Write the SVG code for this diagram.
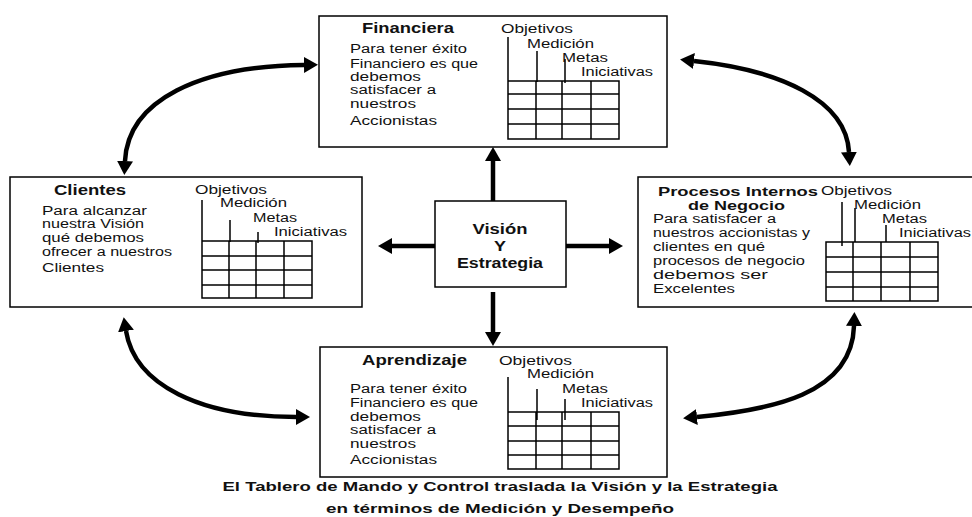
<svg xmlns="http://www.w3.org/2000/svg" width="972" height="517" viewBox="0 0 972 517">
<style>
.box{fill:#fff;stroke:#000;stroke-width:1.5}
.grid{fill:none;stroke:#000;stroke-width:1.5}
.t{font-family:"Liberation Sans",Arial,sans-serif;font-size:14px;font-weight:bold;fill:#111}
.t2{font-family:"Liberation Sans",Arial,sans-serif;font-size:13px;font-weight:bold;fill:#111}
.b{font-family:"Liberation Sans",Arial,sans-serif;font-size:12px;fill:#111}
.h{font-family:"Liberation Sans",Arial,sans-serif;font-size:12px;fill:#111}
.f{font-family:"Liberation Sans",Arial,sans-serif;font-size:13px;font-weight:bold;fill:#111}
.ar{fill:none;stroke:#000;stroke-width:4.5;marker-end:url(#ah)}
.cv{fill:none;stroke:#000;stroke-width:4.5;marker-start:url(#ah);marker-end:url(#ah)}
</style>
<defs>
<marker id="ah" viewBox="0 0 10 10" refX="0" refY="5" markerWidth="14" markerHeight="16" markerUnits="userSpaceOnUse" orient="auto-start-reverse" preserveAspectRatio="none">
<path d="M0,0 L10,5 L0,10 z" fill="#000"/>
</marker>
</defs>
<rect width="972" height="517" fill="#fff"/>

<g id="financiera">
<rect class="box" x="319" y="16" width="348" height="131"/>
<text class="t" x="362" y="33" textLength="92" lengthAdjust="spacingAndGlyphs">Financiera</text>
<text class="b" x="350" y="53" textLength="117" lengthAdjust="spacingAndGlyphs">Para tener éxito</text>
<text class="b" x="350" y="68" textLength="128" lengthAdjust="spacingAndGlyphs">Financiero es que</text>
<text class="b" x="350" y="81" textLength="71" lengthAdjust="spacingAndGlyphs">debemos</text>
<text class="b" x="350" y="94" textLength="86" lengthAdjust="spacingAndGlyphs">satisfacer a</text>
<text class="b" x="350" y="108" textLength="66" lengthAdjust="spacingAndGlyphs">nuestros</text>
<text class="b" x="350" y="125" textLength="87" lengthAdjust="spacingAndGlyphs">Accionistas</text>
<text class="h" x="501" y="33" textLength="72" lengthAdjust="spacingAndGlyphs">Objetivos</text>
<text class="h" x="527" y="48" textLength="67" lengthAdjust="spacingAndGlyphs">Medición</text>
<text class="h" x="562" y="62" textLength="46" lengthAdjust="spacingAndGlyphs">Metas</text>
<text class="h" x="581" y="76" textLength="72" lengthAdjust="spacingAndGlyphs">Iniciativas</text>
<path class="grid" d="M508,37V81M537,51V82M565,59V83M508,81H619V139H508ZM536,81V139M562,81V139M591,81V139M508,94H619M508,109H619M508,124H619"/>
</g>

<g id="clientes">
<rect class="box" x="10" y="177" width="352" height="130"/>
<text class="t" x="54" y="195" textLength="72" lengthAdjust="spacingAndGlyphs">Clientes</text>
<text class="b" x="42" y="215" textLength="105" lengthAdjust="spacingAndGlyphs">Para alcanzar</text>
<text class="b" x="42" y="228" textLength="102" lengthAdjust="spacingAndGlyphs">nuestra Visión</text>
<text class="b" x="42" y="242" textLength="102" lengthAdjust="spacingAndGlyphs">qué debemos</text>
<text class="b" x="42" y="256" textLength="130" lengthAdjust="spacingAndGlyphs">ofrecer a nuestros</text>
<text class="b" x="42" y="272" textLength="62" lengthAdjust="spacingAndGlyphs">Clientes</text>
<text class="h" x="195" y="194" textLength="72" lengthAdjust="spacingAndGlyphs">Objetivos</text>
<text class="h" x="220" y="207" textLength="67" lengthAdjust="spacingAndGlyphs">Medición</text>
<text class="h" x="253" y="222" textLength="44" lengthAdjust="spacingAndGlyphs">Metas</text>
<text class="h" x="274" y="236" textLength="73" lengthAdjust="spacingAndGlyphs">Iniciativas</text>
<path class="grid" d="M202,200V241M230,220V242M258,232V243M202,241H312V298H202ZM229,241V298M256,241V298M284,241V298M202,256H312M202,270H312M202,285H312"/>
</g>

<g id="procesos">
<rect class="box" x="638" y="177" width="340" height="130"/>
<text class="t2" x="658" y="196" textLength="160" lengthAdjust="spacingAndGlyphs">Procesos Internos</text>
<text class="t2" x="688" y="210" textLength="97" lengthAdjust="spacingAndGlyphs">de Negocio</text>
<text class="b" x="653" y="223" textLength="123" lengthAdjust="spacingAndGlyphs">Para satisfacer a</text>
<text class="b" x="653" y="237" textLength="157" lengthAdjust="spacingAndGlyphs">nuestros accionistas y</text>
<text class="b" x="653" y="251" textLength="112" lengthAdjust="spacingAndGlyphs">clientes en qué</text>
<text class="b" x="653" y="265" textLength="152" lengthAdjust="spacingAndGlyphs">procesos de negocio</text>
<text class="b" x="653" y="279" textLength="115" lengthAdjust="spacingAndGlyphs">debemos ser</text>
<text class="b" x="653" y="293" textLength="82" lengthAdjust="spacingAndGlyphs">Excelentes</text>
<text class="h" x="821" y="195" textLength="71" lengthAdjust="spacingAndGlyphs">Objetivos</text>
<text class="h" x="854" y="209" textLength="67" lengthAdjust="spacingAndGlyphs">Medición</text>
<text class="h" x="882" y="223" textLength="45" lengthAdjust="spacingAndGlyphs">Metas</text>
<text class="h" x="899" y="237" textLength="72" lengthAdjust="spacingAndGlyphs">Iniciativas</text>
<path class="grid" d="M842,202V246M855,208V242M886,225V242M826,242H938V301H826ZM853,242V301M881,242V301M910,242V301M826,257H938M826,272H938M826,287H938"/>
</g>

<g id="aprendizaje">
<rect class="box" x="320" y="347" width="347" height="130"/>
<text class="t" x="362" y="365" textLength="105" lengthAdjust="spacingAndGlyphs">Aprendizaje</text>
<text class="b" x="350" y="393" textLength="117" lengthAdjust="spacingAndGlyphs">Para tener éxito</text>
<text class="b" x="350" y="407" textLength="128" lengthAdjust="spacingAndGlyphs">Financiero es que</text>
<text class="b" x="350" y="421" textLength="71" lengthAdjust="spacingAndGlyphs">debemos</text>
<text class="b" x="350" y="434" textLength="86" lengthAdjust="spacingAndGlyphs">satisfacer a</text>
<text class="b" x="350" y="448" textLength="66" lengthAdjust="spacingAndGlyphs">nuestros</text>
<text class="b" x="350" y="464" textLength="87" lengthAdjust="spacingAndGlyphs">Accionistas</text>
<text class="h" x="499" y="365" textLength="73" lengthAdjust="spacingAndGlyphs">Objetivos</text>
<text class="h" x="527" y="378" textLength="67" lengthAdjust="spacingAndGlyphs">Medición</text>
<text class="h" x="562" y="393" textLength="46" lengthAdjust="spacingAndGlyphs">Metas</text>
<text class="h" x="581" y="407" textLength="72" lengthAdjust="spacingAndGlyphs">Iniciativas</text>
<path class="grid" d="M508,377V412M537,389V420M565,399V420M508,412H619V469H508ZM536,412V469M562,412V469M591,412V469M508,426H619M508,441H619M508,455H619"/>
</g>

<g id="vision">
<rect class="box" x="435" y="201" width="131" height="86"/>
<text class="t" x="500" y="234" text-anchor="middle" textLength="55" lengthAdjust="spacingAndGlyphs">Visión</text>
<text class="t" x="500" y="251" text-anchor="middle" textLength="12" lengthAdjust="spacingAndGlyphs">Y</text>
<text class="t" x="500" y="268" text-anchor="middle" textLength="86" lengthAdjust="spacingAndGlyphs">Estrategia</text>
</g>

<g id="connectors">
<path class="ar" d="M493,201V161"/>
<path class="ar" d="M493,292V332"/>
<path class="ar" d="M435,246H392"/>
<path class="ar" d="M566,246H609"/>
<path class="cv" d="M125,161C128,100 200,66 304,65"/>
<path class="cv" d="M694,61C780,70 846,100 849,152"/>
<path class="cv" d="M126,331C135,385 200,417 296,417"/>
<path class="cv" d="M854,326C852,395 770,410 697,417"/>
</g>

<g id="caption">
<text class="f" x="500" y="491" text-anchor="middle" textLength="555" lengthAdjust="spacingAndGlyphs">El Tablero de Mando y Control traslada la Visión y la Estrategia</text>
<text class="f" x="500" y="513" text-anchor="middle" textLength="348" lengthAdjust="spacingAndGlyphs">en términos de Medición y Desempeño</text>
</g>
</svg>
